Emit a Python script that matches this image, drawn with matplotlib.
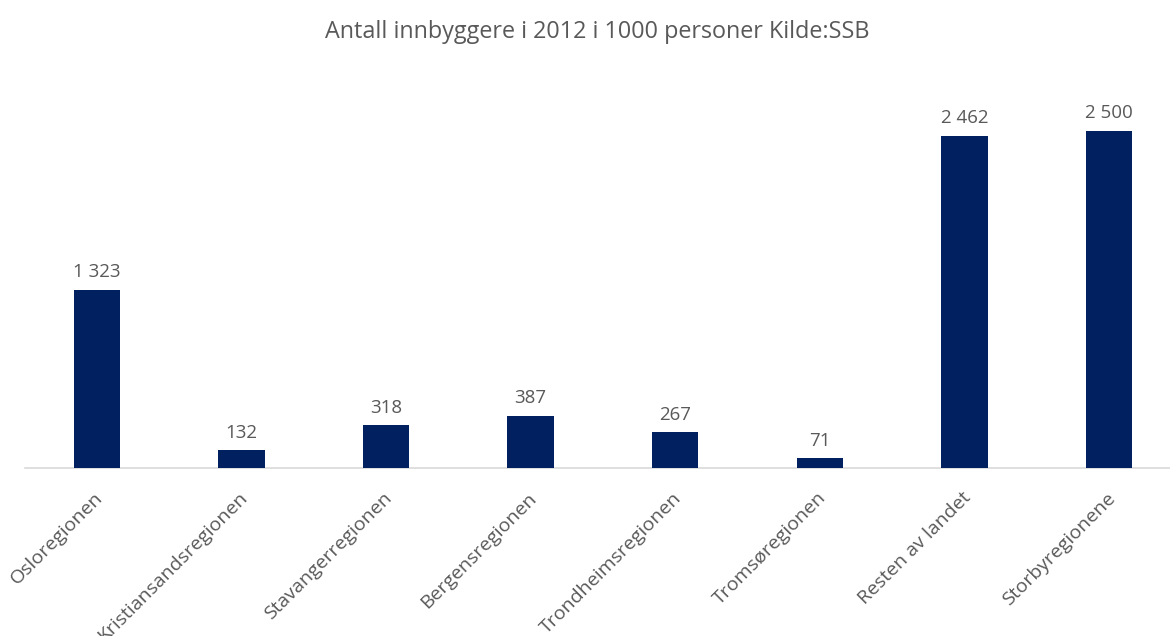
import matplotlib
matplotlib.use("Agg")
import matplotlib.pyplot as plt
from matplotlib.transforms import ScaledTranslation

categories = ["Osloregionen", "Kristiansandsregionen", "Stavangerregionen",
              "Bergensregionen", "Trondheimsregionen", "Tromsøregionen",
              "Resten av landet", "Storbyregionene"]
values = [1323, 132, 318, 387, 267, 71, 2462, 2500]
title = "Antall innbyggere i 2012 i 1000 personer Kilde:SSB"

plt.rcParams['font.family'] = ['Open Sans', 'DejaVu Sans']
W, H = 1170, 636
fig = plt.figure(figsize=(W/100, H/100), dpi=100)
x0 = 24.5
step = 144.6
x1 = x0 + 8*step
base = 468
top = 80
ymax = 2500 * (base - top) / (base - 130.7)
ax = fig.add_axes([x0/W, 1 - base/H, (x1 - x0)/W, (base - top)/H])

xs = list(range(len(categories)))
ax.bar(xs, values, width=0.32, color="#002060", zorder=3)
ax.set_xlim(-0.5, len(categories) - 0.5)
ax.set_ylim(0, ymax)

for s in ["top", "right", "left"]:
    ax.spines[s].set_visible(False)
ax.spines["bottom"].set_color("#d9d9d9")
ax.spines["bottom"].set_linewidth(1.2)
ax.set_yticks([])
ax.set_xticks(xs)
ax.set_xticklabels(categories, rotation=45, ha="right", rotation_mode="anchor",
                   fontsize=14, color="#595959")
ax.tick_params(axis="x", length=0, pad=15)
offset = ScaledTranslation(-3/100, 0, fig.dpi_scale_trans)
for lbl in ax.get_xticklabels():
    lbl.set_transform(lbl.get_transform() + offset)

for x, v in zip(xs, values):
    s = f"{v:,}".replace(",", " ")
    ax.annotate(s, (x, v), xytext=(0, 6), textcoords="offset points",
                ha="center", va="bottom", fontsize=13.5, color="#595959")

fig.text(597/W, 1 - 32/H, title, ha="center", va="center", fontsize=16.8,
         color="#595959")
fig.savefig("out.png", dpi=100, facecolor="white")
